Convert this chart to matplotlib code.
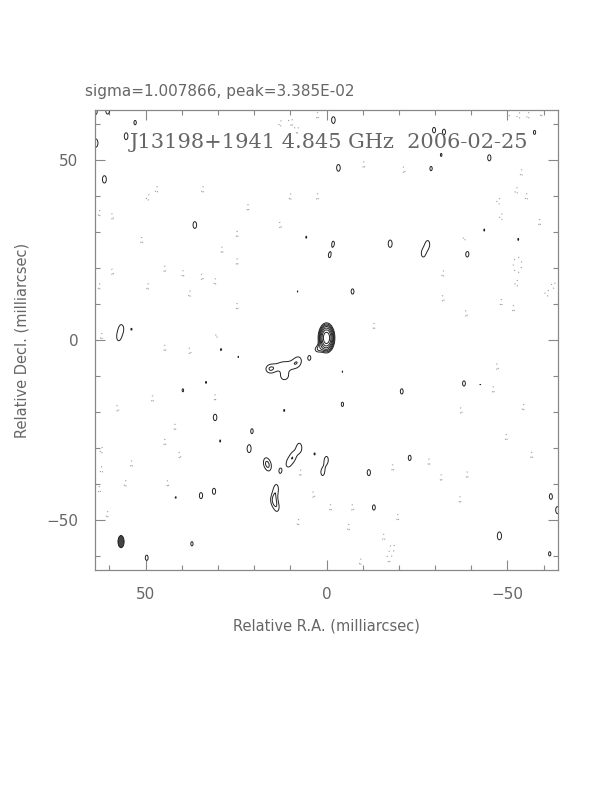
import numpy as np
import matplotlib
matplotlib.use("Agg")
import matplotlib.pyplot as plt
from matplotlib.patches import Ellipse

# image header values
sigma = 1.007866
peak = 3.385e-02
title = "J13198+1941 4.845 GHz  2006-02-25"

# source model (units of sigma): x, y (mas), amplitude, sx, sy (mas), pa (deg)
src_x = [0.0, 2.3, 4.7, 8.0, 11.8, 15.6, 11.6]
src_y = [0.6, -2.5, -5.0, -6.0, -7.0, -8.1, -10.2]
src_amp = [33.6, 3.9, 3.35, 3.7, 3.7, 4.0, 3.6]
src_sx = [1.05, 1.1, 0.6, 1.4, 2.0, 1.4, 1.4]
src_sy = [1.9, 0.9, 1.0, 1.9, 1.3, 1.3, 1.3]
src_pa = [0, 30, 0, -20, 0, 0, 20]

# positive noise spots: x, y (mas), amplitude
pos_x = [52.9, 63.8, 55.4, 60.5, 63.8, 61.4, 36.4, -1.9, -3.3, -13.0, -17.6, -1.9, 5.6, -0.8,
         -29.7, -32.5, -45.0, -31.7, -28.9, -57.5, -43.6, -28.0, -26.7, -38.9, -53.0,
         56.7, 57.5, 53.9, 29.2, 24.4, 33.3, 39.7, 30.8, -38.0, -20.8, -42.5,
         20.6, 29.4, 21.4, 34.7, 31.1, 41.7, 37.2, 49.7, 7.5, 9.2, 0.0, 3.3, 12.8, 15.8,
         16.9, 10.6, 1.1, 14.7, 13.9, 13.6, -11.7, -13.1, -23.0, -47.8, -62.0, -63.9, -61.7,
         -7.2, 8.0, -4.4, -4.4, 11.7]
pos_y = [60.5, 54.8, 56.7, 63.8, 63.5, 44.7, 32.0, 61.2, 47.9, 36.1, 26.8, 27.0, 28.6, 23.4,
         58.4, 57.9, 50.7, 51.5, 47.7, 57.8, 30.6, 26.7, 24.0, 24.0, 28.0,
         3.3, 0.6, 3.0, -2.5, -4.7, -11.8, -14.0, -21.5, -12.1, -14.3, -12.4,
         -25.3, -28.1, -30.3, -43.3, -42.1, -43.8, -56.7, -60.6, -30.0, -32.5, -33.3, -31.7, -36.4, -35.3,
         -33.9, -34.4, -36.9, -44.5, -41.3, -46.8, -36.9, -46.6, -32.8, -54.5, -43.5, -47.4, -59.5,
         13.5, 13.5, -17.9, -8.8, -19.6]
pos_amp = [3.2, 3.8, 3.5, 3.5, 3.3, 3.6, 3.5, 3.5, 3.5, 3.4, 3.6, 3.05, 3.05, 3.05,
           3.3, 3.3, 3.4, 3.1, 3.2, 3.2, 3.05, 3.4, 3.3, 3.5, 3.05,
           3.3, 3.05, 3.02, 3.2, 3.02, 3.05, 3.1, 3.5, 3.3, 3.3, 3.02,
           3.2, 3.05, 3.6, 3.4, 3.4, 3.05, 3.2, 3.3, 3.9, 3.5, 3.4, 3.05, 3.15, 3.05,
           3.05, 3.05, 3.3, 3.8, 3.4, 3.05, 3.4, 3.3, 3.3, 3.7, 3.3, 3.5, 3.2,
           3.3, 3.02, 3.2, 3.02, 3.05]

# negative noise spots: x, y (mas)
neg_x = [46.9, 49.4, 34.2, 59.2, 62.8, 51.1, 24.7, 28.9, 24.7, 21.7, 12.8, 10.0, 8.1, 2.5,
         10.0, 2.5, 12.8, -10.3, -12.2, -21.4, -38.1, -47.5, -48.3, -52.5, -55.3, -58.9,
         -53.9, -53.1, -50.3, -53.1, -55.8, -59.4, 44.7, 49.4, 30.3, 24.7, 30.8, 44.7, 59.2,
         62.8, 62.2, 48.1, 57.8, 37.8, 39.7, 34.4, 30.8, 37.8, -32.2, -32.2, -38.6, -47.2,
         -52.5, -52.5, -48.3, -51.7, -60.8, -62.8, -46.1, -37.2, -54.4, 62.2, 62.2, 62.8,
         53.9, 60.6, 41.9, 44.7, 40.6, 55.6, 43.9, -1.1, 3.6, 7.2, -7.2, -6.1, 7.8, -18.3,
         -19.7, -18.3, -17.2, -9.4, -15.8, -31.7, -38.9, -56.7, -36.9, -28.3, -49.7, -13.1]
neg_y = [41.9, 39.7, 41.9, 34.4, 35.3, 27.8, 29.5, 25.1, 21.8, 36.9, 60.3, 60.9, 58.4, 62.5,
         39.9, 39.9, 32.0, 48.8, 38.3, 47.4, 28.1, 38.8, 34.2, 41.6, 39.9, 32.8,
         46.6, 21.2, 63.1, 62.5, 62.5, 63.1, -2.2, 14.9, 1.1, 9.4, 16.3, 19.8, 19.0,
         14.9, 1.1, -16.3, -19.0, 12.9, 18.5, 17.6, -16.0, -3.0, 18.5, 11.6, 7.4, -7.4,
         20.9, 15.7, 10.5, 8.8, 12.9, 15.4, -13.8, -19.6, -18.7, -30.6, -36.1, -41.6,
         -34.4, -48.5, -24.2, -28.4, -32.0, -39.9, -39.9, -46.6, -43.0, -36.9, -46.6, -52.1, -50.7, -35.5,
         -49.3, -57.6, -60.9, -61.7, -54.8, -38.3, -37.5, -32.0, -44.4, -33.9, -27.0, 3.9]

# restoring beam: position (mas), fwhm major/minor (mas), pa (deg)
beam_x, beam_y = 56.8, -56.1
beam_maj, beam_min, beam_pa = 3.4, 1.7, 0.0

# contour levels in units of sigma
levels = [3, 4.24, 6, 8.49, 12, 16.97, 24]
neg_levels = [-3]


def gauss(X, Y, x0, y0, a, sx, sy, pa):
    t = np.radians(pa)
    dx = X - x0
    dy = Y - y0
    u = dx * np.cos(t) - dy * np.sin(t)
    v = dx * np.sin(t) + dy * np.cos(t)
    return a * np.exp(-0.5 * ((u / sx) ** 2 + (v / sy) ** 2))


g = np.linspace(-66, 66, 661)
X, Y = np.meshgrid(g, g)
img = np.zeros_like(X)
for i in range(len(src_x)):
    img += gauss(X, Y, src_x[i], src_y[i], src_amp[i], src_sx[i], src_sy[i], src_pa[i])
for i in range(len(pos_x)):
    img += gauss(X, Y, pos_x[i], pos_y[i], pos_amp[i], 0.9, 1.7, 0)
for i in range(len(neg_x)):
    img += gauss(X, Y, neg_x[i], neg_y[i], -3.3, 0.9, 1.7, 0)

fig = plt.figure(figsize=(6.12, 7.92), dpi=100)
ax = fig.add_axes([0.1552, 0.2803, 0.7566, 0.5808])

ax.contour(X, Y, img, levels=levels, colors="#222222", linewidths=0.7)
ax.contour(X, Y, img, levels=neg_levels, colors="#999999", linewidths=0.8,
           linestyles=[(0, (1, 4))])

ax.add_patch(Ellipse((beam_x, beam_y), beam_min, beam_maj, angle=beam_pa,
                     facecolor="#444444", edgecolor="#111111", lw=0.6))

ax.set_xlim(64, -64)
ax.set_ylim(-64, 64)
ax.set_aspect("auto")

gray = "#666666"
ax.set_xticks([50, 0, -50])
ax.set_yticks([50, 0, -50])
ax.set_xticklabels(["50", "0", "\u221250"])
ax.set_yticklabels(["50", "0", "\u221250"])
ax.set_xticks(np.arange(-60, 61, 10), minor=True)
ax.set_yticks(np.arange(-60, 61, 10), minor=True)
ax.tick_params(which="both", direction="in", top=True, right=True, colors="#888888",
               labelcolor=gray, labelsize=11)
ax.tick_params(which="major", length=7, width=0.8, pad=12)
ax.tick_params(which="minor", length=3.5, width=0.8)
for s in ax.spines.values():
    s.set_color("#888888")
    s.set_linewidth(0.9)

ax.set_xlabel("Relative R.A. (milliarcsec)", color=gray, fontsize=10.5, labelpad=12)
ax.set_ylabel("Relative Decl. (milliarcsec)", color=gray, fontsize=10.5, labelpad=12)

ax.text(0.075, 0.93, title, transform=ax.transAxes, fontsize=15, color=gray,
        family="DejaVu Serif", va="center", ha="left")
fig.text(0.139, 0.879, "sigma=%.6f, peak=%.3E" % (sigma, peak), color=gray, fontsize=11,
         va="baseline", ha="left")

fig.savefig("out.png", dpi=100)
